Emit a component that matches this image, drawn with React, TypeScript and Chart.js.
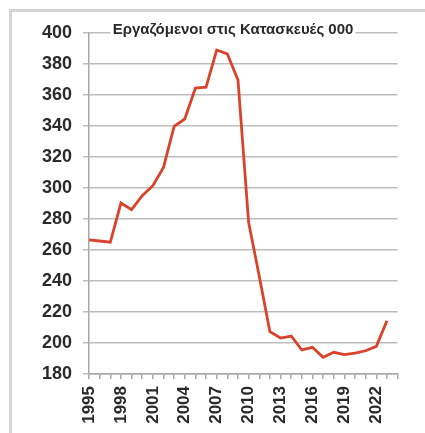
import React, { useEffect, useRef } from "react";
import { Chart, registerables } from "chart.js";

Chart.register(...registerables);

const years: string[] = [
  "1995", "1996", "1997", "1998", "1999", "2000", "2001", "2002", "2003", "2004",
  "2005", "2006", "2007", "2008", "2009", "2010", "2011", "2012", "2013", "2014",
  "2015", "2016", "2017", "2018", "2019", "2020", "2021", "2022", "2023", "2024",
];

const employed: (number | null)[] = [
  266.5, 265.8, 265, 290.3, 286, 295, 301.5, 313.3, 339.8, 344.5,
  364.5, 365, 389, 386.5, 369.7, 277.8, 243, 207.3, 203.2, 204.5,
  195.5, 197.2, 190.8, 194, 192.5, 193.5, 195, 197.8, 214.4, null,
];

const titleText = "Εργαζόμενοι στις Κατασκευές 000";
const yMin = 180;
const yMax = 400;
const yStep = 20;
const labelEvery = 3;

const titlePlugin = {
  id: "overlayTitle",
  afterDraw(chart: any) {
    const { ctx, chartArea } = chart;
    ctx.save();
    ctx.font = "bold 15px 'Liberation Sans', Arial, sans-serif";
    ctx.textAlign = "center";
    ctx.textBaseline = "alphabetic";
    const cx = 233;
    const w = ctx.measureText(titleText).width;
    ctx.fillStyle = "#ffffff";
    ctx.fillRect(cx - w / 2 - 2, chartArea.top - 13, w + 4, 14);
    ctx.fillStyle = "#2a2a2a";
    ctx.fillText(titleText, cx, chartArea.top + 1);
    ctx.restore();
  },
};

export default function App() {
  const ref = useRef<HTMLCanvasElement | null>(null);

  useEffect(() => {
    document.body.style.margin = "0";
    document.body.style.overflow = "hidden";
    if (!ref.current) return;
    const chart = new Chart(ref.current, {
      type: "line",
      data: {
        labels: years,
        datasets: [
          {
            label: titleText,
            data: employed,
            borderColor: "#d9432c",
            borderWidth: 2.8,
            pointRadius: 0,
            tension: 0,
            spanGaps: false,
          },
        ],
      },
      options: {
        responsive: false,
        animation: false,
        layout: { padding: { top: 33, right: 22, bottom: 0, left: 0 } },
        plugins: {
          legend: { display: false },
          title: { display: false },
          tooltip: { enabled: false },
        },
        scales: {
          x: {
            offset: false,
            grid: {
              drawOnChartArea: false,
              drawTicks: true,
              tickLength: 5,
              color: "#a8a8a8",
              lineWidth: 1.5,
            },
            border: { color: "#a8a8a8", width: 1.5 },
            ticks: {
              autoSkip: false,
              minRotation: 90,
              maxRotation: 90,
              padding: 7,
              color: "#2a2a2a",
              font: { family: "'Liberation Sans', Arial, sans-serif", size: 17, weight: "bold" },
              callback: (_v: any, i: number) => (i % labelEvery === 0 ? years[i] : ""),
            },
            afterFit: (scale: any) => {
              scale.height = 59;
            },
          },
          y: {
            min: yMin,
            max: yMax,
            ticks: {
              stepSize: yStep,
              padding: 11,
              color: "#2a2a2a",
              font: { family: "'Liberation Sans', Arial, sans-serif", size: 18, weight: "bold" },
            },
            grid: {
              color: "#bdbdbd",
              lineWidth: 1.5,
              tickLength: 6,
            },
            border: { color: "#a8a8a8", width: 1.5 },
            afterFit: (scale: any) => {
              scale.width = 89;
            },
          },
        },
      },
      plugins: [titlePlugin],
    });
    return () => chart.destroy();
  }, []);

  return (
    <div style={{ position: "relative", width: 425, height: 433, overflow: "hidden", background: "#fff" }}>
      <div
        style={{
          position: "absolute",
          left: 9,
          top: 9,
          right: -10,
          bottom: -10,
          borderTop: "3px solid #d4d4d4",
          borderLeft: "3px solid #d4d4d4",
        }}
      />
      <canvas ref={ref} width={425} height={433} style={{ position: "absolute", left: 0, top: 0 }} />
    </div>
  );
}
